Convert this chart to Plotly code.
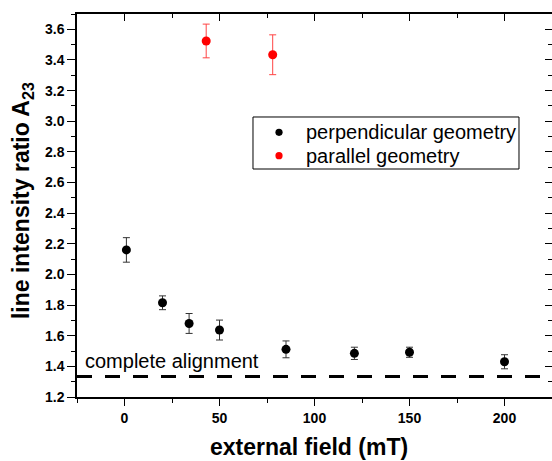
import plotly.graph_objects as go

# perpendicular geometry measurements
perp_field = [1, 20, 34, 50, 85, 121, 150, 200]
perp_ratio = [2.16, 1.815, 1.68, 1.637, 1.511, 1.485, 1.492, 1.43]
perp_err = [0.08, 0.045, 0.065, 0.065, 0.055, 0.04, 0.033, 0.046]

# parallel geometry measurements
par_field = [43, 78]
par_ratio = [3.524, 3.434]
par_err = [0.11, 0.13]

# ratio expected for complete alignment
full_alignment = 4 / 3

x_range = [-25, 225]
y_range = [1.2, 3.7]

FONT = "Liberation Sans, Arial, sans-serif"
BLACK = "black"
RED = "#ff0000"

series = [
    ("perpendicular geometry", perp_field, perp_ratio, perp_err, BLACK, "#333333"),
    ("parallel geometry", par_field, par_ratio, par_err, RED, "#ff4444"),
]

fig = go.Figure()

for name, xs, ys, errs, col, ecol in series:
    fig.add_trace(go.Scatter(
        x=xs, y=ys, mode="markers", name=name, showlegend=False,
        marker=dict(color=col, size=9),
        error_y=dict(type="data", array=errs, visible=True,
                     color=ecol, thickness=1, width=3.5),
    ))

# empty trace to bring up the mirrored top/right axes
fig.add_trace(go.Scatter(x=[None], y=[None], xaxis="x2", yaxis="y2",
                         mode="markers", showlegend=False, hoverinfo="skip"))

fig.add_shape(type="line", xref="paper", x0=0, x1=1, yref="y",
              y0=full_alignment, y1=full_alignment,
              line=dict(color="black", width=3, dash="15px,13px"))

fig.add_annotation(x=-22, y=1.435, xref="x", yref="y",
                   text="complete alignment", showarrow=False,
                   xanchor="left", yanchor="middle",
                   font=dict(family=FONT, size=20, color="black"))

# legend box with compact rows
leg_x0, leg_x1, leg_y0, leg_y1 = 0.3705, 0.9305, 0.5953, 0.7311
fig.add_shape(type="rect", xref="paper", yref="paper",
              x0=leg_x0, x1=leg_x1, y0=leg_y0, y1=leg_y1,
              line=dict(color="black", width=1), fillcolor="white", layer="above")
row_y = [0.6911, 0.630]
for (name, _, _, _, col, _), ry in zip(series, row_y):
    fig.add_shape(type="circle", xref="paper", yref="paper",
                  xsizemode="pixel", ysizemode="pixel",
                  xanchor=0.4253, yanchor=ry, x0=-3.6, x1=3.6, y0=-3.6, y1=3.6,
                  fillcolor=col, line=dict(color=col, width=0), layer="above")
    fig.add_annotation(x=0.4779, y=ry, xref="paper", yref="paper",
                       text=name, showarrow=False,
                       xanchor="left", yanchor="middle",
                       font=dict(family=FONT, size=20, color="black"))

# axis titles
fig.add_annotation(x=0.488, y=-0.1305, xref="paper", yref="paper",
                   text="<b>external field (mT)</b>", showarrow=False,
                   xanchor="center", yanchor="middle",
                   font=dict(family=FONT, size=23, color="black"))
fig.add_annotation(x=-0.116, y=0.514, xref="paper", yref="paper",
                   text="<b>line intensity ratio A<sub>23</sub></b>",
                   showarrow=False, textangle=-90,
                   xanchor="center", yanchor="middle",
                   font=dict(family=FONT, size=23, color="black"))

tickfont = dict(family=FONT, size=14, color="black", weight="bold")

fig.update_layout(
    width=552, height=461,
    margin=dict(l=77, r=0, t=14, b=64),
    paper_bgcolor="white", plot_bgcolor="white",
    showlegend=False,
    xaxis=dict(range=x_range, tick0=0, dtick=50, ticks="outside",
               ticklen=7, tickwidth=1.3, tickcolor="black",
               showline=True, linecolor="black", linewidth=1.5,
               showgrid=False, zeroline=False, tickfont=tickfont,
               minor=dict(dtick=25, tick0=0, ticks="outside", ticklen=4,
                          tickwidth=1.3, tickcolor="black", showgrid=False)),
    yaxis=dict(range=y_range, tick0=1.2, dtick=0.2, tickformat=".1f",
               ticks="outside", ticklen=8, tickwidth=1.3, tickcolor="black",
               showline=True, linecolor="black", linewidth=1.5,
               showgrid=False, zeroline=False, tickfont=tickfont,
               minor=dict(dtick=0.1, tick0=1.2, ticks="outside", ticklen=4,
                          tickwidth=1.3, tickcolor="black", showgrid=False)),
    xaxis2=dict(range=x_range, overlaying="x", side="top", anchor="y2",
                tick0=0, dtick=50, ticks="inside", ticklen=7, tickwidth=1.3,
                tickcolor="black", showticklabels=False,
                showline=True, linecolor="black", linewidth=1.5,
                showgrid=False, zeroline=False,
                minor=dict(dtick=25, tick0=0, ticks="inside", ticklen=4,
                           tickwidth=1.3, tickcolor="black", showgrid=False)),
    yaxis2=dict(range=y_range, overlaying="y", side="right", anchor="x2",
                tick0=1.2, dtick=0.2, ticks="inside", ticklen=7,
                tickwidth=1.3, tickcolor="black", showticklabels=False,
                showline=True, linecolor="black", linewidth=1.5,
                showgrid=False, zeroline=False,
                minor=dict(dtick=0.1, tick0=1.2, ticks="inside", ticklen=4,
                           tickwidth=1.3, tickcolor="black", showgrid=False)),
)

fig.write_html("out.html")
